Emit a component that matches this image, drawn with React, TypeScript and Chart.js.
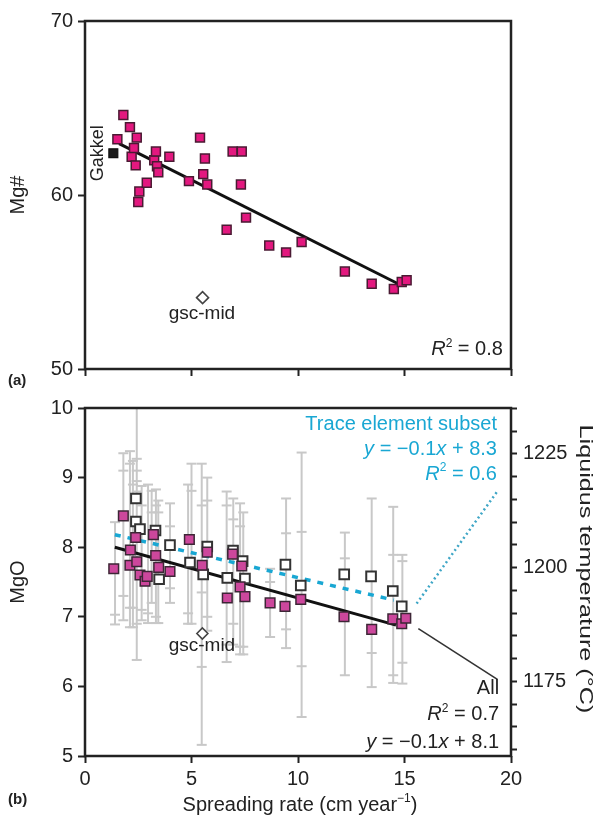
import React, { useEffect, useRef } from 'react';
import { Chart, registerables } from 'chart.js';
Chart.register(...registerables);

const FONT = '"Liberation Sans", Arial, Helvetica, sans-serif';
const INK = '#222222';
const BLUE = '#19a7d3';

// ---------------- Panel (a): Mg# vs spreading rate ----------------
const aRate = [1.52, 1.80, 2.11, 2.19, 2.30, 2.38, 2.43, 2.50, 2.55, 2.90, 3.25, 3.33, 3.38, 3.44, 3.96, 4.88, 5.40, 5.55, 5.63, 5.74, 6.65, 6.93, 7.32, 7.36, 7.56, 8.65, 9.44, 10.17, 12.2, 13.46, 14.5, 14.87, 15.1];
const aMg = [63.2, 64.6, 63.9, 62.2, 62.7, 61.7, 63.3, 59.6, 60.2, 60.7, 62.0, 62.5, 61.65, 61.3, 62.2, 60.8, 63.3, 61.2, 62.1, 60.6, 58.0, 62.5, 60.6, 62.5, 58.7, 57.1, 56.7, 57.3, 55.6, 54.9, 54.6, 55.0, 55.1];
const gakkelRate = [1.33];
const gakkelMg = [62.4];
const gscARate = [5.52];
const gscAMg = [54.1];
const fitARate = [1.6, 14.7];
const fitAMg = [62.95, 54.9];
const mgTicks = [50, 60, 70];

// ---------------- Panel (b): MgO vs spreading rate ----------------
const bAllRate = [1.35, 1.80, 2.11, 2.13, 2.38, 2.43, 2.58, 2.82, 2.92, 3.21, 3.32, 3.46, 3.99, 4.90, 5.50, 5.74, 6.68, 6.93, 7.28, 7.36, 7.51, 8.69, 9.39, 10.13, 12.16, 13.46, 14.45, 14.87, 15.06];
const bAllMgO = [7.69, 8.45, 7.74, 7.96, 8.14, 7.79, 7.60, 7.51, 7.58, 8.18, 7.88, 7.71, 7.65, 8.11, 7.74, 7.93, 7.27, 7.90, 7.43, 7.73, 7.29, 7.20, 7.15, 7.25, 7.00, 6.82, 6.97, 6.90, 6.98];
const bSubRate = [2.39, 2.39, 2.58, 3.31, 3.48, 3.99, 4.93, 5.55, 5.74, 6.68, 6.95, 7.40, 7.51, 9.41, 10.13, 12.17, 13.43, 14.45, 14.87];
const bSubMgO = [8.70, 8.37, 8.26, 8.24, 7.54, 8.03, 7.78, 7.61, 8.01, 7.56, 7.95, 7.80, 7.55, 7.75, 7.45, 7.61, 7.58, 7.37, 7.15];
const gscBRate = [5.51];
const gscBMgO = [6.76];
const fitAllRate = [1.4, 14.6];
const fitAllMgO = [8.0, 6.88];
const leadAllRate = [15.65, 19.36];
const leadAllMgO = [6.83, 6.10];
const fitSubRate = [1.4, 14.5];
const fitSubMgO = [8.18, 7.24];
const leadSubRate = [15.57, 19.33];
const leadSubMgO = [7.19, 8.79];
const errRate = [1.41, 1.80, 2.11, 2.25, 2.43, 2.66, 2.96, 3.13, 3.33, 3.44, 3.99, 4.84, 5.0, 5.48, 5.74, 6.65, 6.96, 7.28, 7.43, 8.69, 9.44, 10.17, 12.2, 13.46, 14.47, 14.9];
const errCaps = [
  [8.36, 7.03, 6.89],
  [9.35, 9.1, 7.3, 6.95],
  [9.38, 9.2, 7.13, 6.85],
  [9.24, 8.9, 7.13, 6.85],
  [10.2, 9.27, 9.1, 8.95, 8.8, 6.9, 6.38],
  [8.88, 8.6, 7.1, 6.95],
  [8.9, 7.05, 6.91],
  [8.81, 8.5, 7.2],
  [8.83, 8.6, 7.0, 6.91],
  [8.67, 8.5, 6.91],
  [8.63, 8.3, 7.41, 7.2],
  [8.9, 7.05, 6.9],
  [9.2, 8.81, 6.9],
  [9.2, 8.6, 7.35, 6.28, 5.16],
  [9.0, 8.67, 7.0, 6.8],
  [8.8, 8.6, 6.6, 6.35],
  [8.7, 8.4, 6.9, 6.6],
  [8.63, 8.3, 6.57, 6.46],
  [8.5, 6.57, 6.46],
  [7.69, 7.5, 6.71],
  [8.7, 8.2, 6.82, 6.55],
  [9.36, 8.22, 6.29, 5.56],
  [8.21, 7.84, 6.16],
  [8.7, 6.48, 5.99],
  [8.58, 7.89, 6.16, 6.05],
  [7.89, 7.8, 6.34, 6.04],
];
const mgoTicks = [5, 6, 7, 8, 9, 10];
const tempRange = [1158.6, 1235.1];
const tempTicks = [1160, 1165, 1170, 1175, 1180, 1185, 1190, 1195, 1200, 1205, 1210, 1215, 1220, 1225, 1230, 1235];
const tempLabels = [1175, 1200, 1225];
const rateTicks = [0, 5, 10, 15, 20];

type Seg = { t: string; it?: boolean; sup?: boolean };

function segFont(s: Seg, size: number) {
  const sz = s.sup ? Math.round(size * 0.62) : size;
  return `${s.it ? 'italic ' : ''}${sz}px ${FONT}`;
}

function drawRich(ctx: CanvasRenderingContext2D, segs: Seg[], xAnchor: number, yMid: number, size: number, color: string, align: 'right' | 'center' = 'right') {
  ctx.save();
  ctx.fillStyle = color;
  ctx.textBaseline = 'middle';
  ctx.textAlign = 'left';
  const widths = segs.map((s) => { ctx.font = segFont(s, size); return ctx.measureText(s.t).width; });
  const total = widths.reduce((a, b) => a + b, 0);
  let x = align === 'right' ? xAnchor - total : xAnchor - total / 2;
  segs.forEach((s, i) => {
    ctx.font = segFont(s, size);
    ctx.fillText(s.t, x, s.sup ? yMid - size * 0.3 : yMid);
    x += widths[i];
  });
  ctx.restore();
}

const pts = (xs: number[], ys: number[]) => xs.map((x, i) => ({ x, y: ys[i] }));

const tickFont = { family: FONT, size: 20 };
const gridCfg = (len: number) => ({ display: true, drawOnChartArea: false, drawTicks: true, tickLength: len, tickWidth: 2, tickColor: INK });
const fixW = (w: number) => (s: any) => { s.width = w; s.paddingTop = 0; s.paddingBottom = 0; };
const fixH = (h: number) => (s: any) => { s.height = h; s.paddingLeft = 0; s.paddingRight = 0; };
const setTicks = (vals: number[]) => (s: any) => { s.ticks = vals.map((v) => ({ value: v })); };

const lineDs = (xs: number[], ys: number[], color: string, width: number, dash: number[] = []) => ({
  data: pts(xs, ys),
  showLine: true,
  borderColor: color,
  borderWidth: width,
  borderDash: dash,
  pointRadius: 0,
  fill: false,
});

const frame = (chart: any) => {
  const { ctx, chartArea: ca } = chart;
  ctx.save();
  ctx.strokeStyle = INK;
  ctx.lineWidth = 2.5;
  ctx.strokeRect(ca.left, ca.top, ca.right - ca.left, ca.bottom - ca.top);
  ctx.restore();
};

const annotA = {
  id: 'annotA',
  afterDatasetsDraw(chart: any) {
    const { ctx, chartArea: ca } = chart;
    const x = chart.scales.x, y = chart.scales.y;
    frame(chart);
    ctx.save();
    ctx.fillStyle = INK;
    ctx.textBaseline = 'middle';
    ctx.textAlign = 'center';
    ctx.font = `18px ${FONT}`;
    ctx.translate(x.getPixelForValue(0.61), y.getPixelForValue(62.4));
    ctx.rotate(-Math.PI / 2);
    ctx.fillText('Gakkel', 0, 0);
    ctx.restore();
    ctx.save();
    ctx.fillStyle = INK;
    ctx.textBaseline = 'middle';
    ctx.textAlign = 'center';
    ctx.font = `19px ${FONT}`;
    ctx.fillText('gsc-mid', x.getPixelForValue(5.49), y.getPixelForValue(53.16));
    ctx.font = `bold 15px ${FONT}`;
    ctx.textAlign = 'left';
    ctx.fillText('(a)', 8, ca.bottom + 12);
    ctx.restore();
    drawRich(ctx, [{ t: 'R', it: true }, { t: '2', sup: true }, { t: ' = 0.8' }], x.getPixelForValue(19.62), y.getPixelForValue(51.1), 20, INK);
  },
};

const errBars = {
  id: 'errBars',
  beforeDatasetsDraw(chart: any) {
    const { ctx, chartArea: ca } = chart;
    const x = chart.scales.x, y = chart.scales.y;
    ctx.save();
    ctx.beginPath();
    ctx.rect(ca.left, ca.top, ca.right - ca.left, ca.bottom - ca.top);
    ctx.clip();
    ctx.strokeStyle = '#c8c8c8';
    ctx.lineWidth = 2;
    errRate.forEach((r, i) => {
      const caps = errCaps[i];
      const px = x.getPixelForValue(r);
      const lo = Math.min(...caps), hi = Math.max(...caps);
      ctx.beginPath();
      ctx.moveTo(px, y.getPixelForValue(lo));
      ctx.lineTo(px, y.getPixelForValue(hi));
      ctx.stroke();
      caps.forEach((c) => {
        const py = y.getPixelForValue(c);
        ctx.beginPath();
        ctx.moveTo(px - 5, py);
        ctx.lineTo(px + 5, py);
        ctx.stroke();
      });
    });
    ctx.restore();
  },
};

const annotB = {
  id: 'annotB',
  afterDatasetsDraw(chart: any) {
    const { ctx, chartArea: ca } = chart;
    const x = chart.scales.x, y = chart.scales.y;
    frame(chart);
    const X = (v: number) => x.getPixelForValue(v);
    const Y = (v: number) => y.getPixelForValue(v);
    drawRich(ctx, [{ t: 'Trace element subset' }], X(19.34), Y(9.77), 20, BLUE);
    drawRich(ctx, [{ t: 'y', it: true }, { t: ' = \u22120.1' }, { t: 'x', it: true }, { t: ' + 8.3' }], X(19.34), Y(9.40), 20, BLUE);
    drawRich(ctx, [{ t: 'R', it: true }, { t: '2', sup: true }, { t: ' = 0.6' }], X(19.34), Y(9.05), 20, BLUE);
    drawRich(ctx, [{ t: 'All' }], X(19.44), Y(5.97), 20, INK);
    drawRich(ctx, [{ t: 'R', it: true }, { t: '2', sup: true }, { t: ' = 0.7' }], X(19.44), Y(5.59), 20, INK);
    drawRich(ctx, [{ t: 'y', it: true }, { t: ' = \u22120.1' }, { t: 'x', it: true }, { t: ' + 8.1' }], X(19.44), Y(5.20), 20, INK);
    drawRich(ctx, [{ t: 'gsc-mid' }], X(5.49), Y(6.59), 19, INK, 'center');
    // x title
    drawRich(ctx, [{ t: 'Spreading rate (cm year' }, { t: '\u22121', sup: true }, { t: ')' }], 300, ca.bottom + 49, 20, INK, 'center');
    // right title (stretched along its length as in the reference)
    ctx.save();
    ctx.fillStyle = INK;
    ctx.textBaseline = 'middle';
    ctx.textAlign = 'center';
    ctx.font = `18px ${FONT}`;
    ctx.translate(ca.right + 74, (ca.top + ca.bottom) / 2 - 13);
    ctx.rotate(Math.PI / 2);
    ctx.scale(1.4, 1);
    ctx.fillText('Liquidus temperature (\u00B0C)', 0, 0);
    ctx.restore();
    ctx.save();
    ctx.fillStyle = INK;
    ctx.textBaseline = 'middle';
    ctx.font = `bold 15px ${FONT}`;
    ctx.fillText('(b)', 8, ca.bottom + 44);
    ctx.restore();
  },
};

const baseOpts = {
  animation: false as const,
  responsive: false,
  maintainAspectRatio: false,
  events: [] as any[],
  plugins: { legend: { display: false }, tooltip: { enabled: false } },
};

export default function App() {
  const refA = useRef<HTMLCanvasElement>(null);
  const refB = useRef<HTMLCanvasElement>(null);

  useEffect(() => {
    const sq = (xs: number[], ys: number[], fill: string, border: string, r: number, bw: number, style = 'rect') => ({
      data: pts(xs, ys),
      showLine: false,
      pointStyle: style,
      pointRadius: r,
      pointBackgroundColor: fill,
      pointBorderColor: border,
      pointBorderWidth: bw,
      backgroundColor: fill,
      borderColor: border,
    });

    const chartA = new Chart(refA.current as HTMLCanvasElement, {
      type: 'scatter',
      data: {
        datasets: [
          sq(gakkelRate, gakkelMg, '#1b1b1b', '#111', 6.3, 1.2),
          sq(aRate, aMg, '#e3187f', '#4a1a33', 6.3, 1.5),
          sq(gscARate, gscAMg, '#ffffff', '#444', 6, 1.6, 'rectRot'),
          lineDs(fitARate, fitAMg, '#111', 3),
        ] as any,
      },
      options: {
        ...baseOpts,
        layout: { padding: { top: 21, right: 89, bottom: 0, left: 0 } },
        scales: {
          x: {
            type: 'linear', min: 0, max: 20,
            afterBuildTicks: setTicks(rateTicks),
            ticks: { callback: () => '', autoSkip: false },
            grid: gridCfg(7),
            border: { display: false },
            afterFit: fixH(21),
          },
          y: {
            type: 'linear', min: 50, max: 70,
            afterBuildTicks: setTicks(mgTicks),
            ticks: { font: tickFont, color: INK, padding: 5, autoSkip: false },
            grid: gridCfg(7),
            border: { display: false },
            title: { display: true, text: 'Mg#', font: tickFont, color: INK, padding: { top: 6, bottom: 0 } },
            afterFit: fixW(85),
          },
        },
      } as any,
      plugins: [annotA],
    });

    const chartB = new Chart(refB.current as HTMLCanvasElement, {
      type: 'scatter',
      data: {
        datasets: [
          sq(bAllRate, bAllMgO, '#cc479c', '#3d2636', 6.8, 1.5),
          sq(bSubRate, bSubMgO, '#ffffff', '#333', 6.8, 2),
          sq(gscBRate, gscBMgO, '#ffffff', '#444', 5.5, 1.6, 'rectRot'),
          lineDs(fitAllRate, fitAllMgO, '#111', 3),
          lineDs(fitSubRate, fitSubMgO, BLUE, 3.5, [6, 7]),
          lineDs(leadAllRate, leadAllMgO, '#333', 1.6),
          lineDs(leadSubRate, leadSubMgO, '#3ea6c6', 2.5, [2, 3]),
        ] as any,
      },
      options: {
        ...baseOpts,
        layout: { padding: { top: 18, right: 0, bottom: 0, left: 0 } },
        scales: {
          x: {
            type: 'linear', min: 0, max: 20,
            afterBuildTicks: setTicks(rateTicks),
            ticks: { font: tickFont, color: INK, padding: 4, autoSkip: false, maxRotation: 0 },
            grid: gridCfg(7),
            border: { display: false },
            afterFit: fixH(71),
          },
          y: {
            type: 'linear', min: 5, max: 10, position: 'left',
            afterBuildTicks: setTicks(mgoTicks),
            ticks: { font: tickFont, color: INK, padding: 5, autoSkip: false },
            grid: gridCfg(7),
            border: { display: false },
            title: { display: true, text: 'MgO', font: tickFont, color: INK, padding: { top: 6, bottom: 0 } },
            afterFit: fixW(85),
          },
          y2: {
            type: 'linear', min: tempRange[0], max: tempRange[1], position: 'right',
            afterBuildTicks: setTicks(tempTicks),
            ticks: {
              font: tickFont, color: INK, padding: 6, autoSkip: false,
              callback: (v: number) => (tempLabels.includes(v) ? String(v) : ''),
            },
            grid: gridCfg(6),
            border: { display: false },
            afterFit: fixW(89),
          },
        },
      } as any,
      plugins: [errBars, annotB],
    });

    return () => {
      chartA.destroy();
      chartB.destroy();
    };
  }, []);

  return (
    <div style={{ position: 'absolute', left: 0, top: 0, width: 600, height: 827, background: '#ffffff' }}>
      <canvas ref={refA} width={600} height={390} style={{ position: 'absolute', left: 0, top: 0 }} />
      <canvas ref={refB} width={600} height={437} style={{ position: 'absolute', left: 0, top: 390 }} />
    </div>
  );
}
